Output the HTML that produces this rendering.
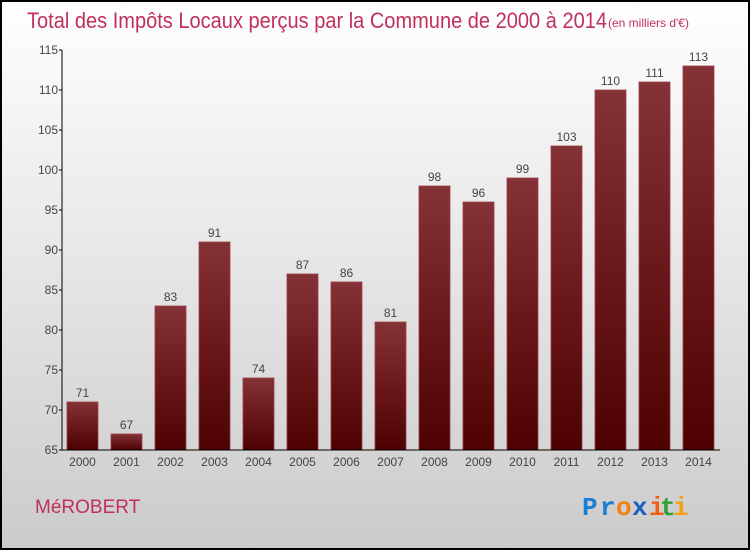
<!DOCTYPE html>
<html><head><meta charset="utf-8"><style>
body{margin:0;width:750px;height:550px;overflow:hidden;font-family:"Liberation Sans",sans-serif}
</style></head><body>
<svg width="750" height="550" xmlns="http://www.w3.org/2000/svg">
<defs>
<linearGradient id="bg" x1="0" y1="0" x2="0" y2="1"><stop offset="0" stop-color="#ffffff"/><stop offset="1" stop-color="#cbcbcb"/></linearGradient>
<linearGradient id="bar" x1="0" y1="0" x2="0" y2="1"><stop offset="0" stop-color="#843236"/><stop offset="1" stop-color="#4f0000"/></linearGradient>
</defs>
<rect x="1" y="1" width="748" height="548" fill="url(#bg)" stroke="#000" stroke-width="2"/>
<text x="27" y="28" font-size="22" fill="#c0305a" font-weight="300" textLength="580" lengthAdjust="spacingAndGlyphs">Total des Impôts Locaux perçus par la Commune de 2000 à 2014</text>
<text x="608" y="27" font-size="12" fill="#c0305a">(en milliers d'€)</text>
<g id="plot"></g>
<text x="35" y="513" font-size="19" fill="#c0305a">MéROBERT</text>
<g font-size="26" font-weight="bold" font-family="Liberation Mono, monospace">
<text x="582" y="515" fill="#1a7fd0">P</text><text x="600" y="515" fill="#1a7fd0">r</text><text x="616" y="515" fill="#f08010">o</text><text x="632" y="515" fill="#1a60c0">x</text><text x="649" y="515" fill="#f06010">i</text><text x="660" y="515" fill="#30a030">t</text><text x="673" y="515" fill="#f0a010">i</text>
</g>
</svg>
<script>
const years=["2000","2001","2002","2003","2004","2005","2006","2007","2008","2009","2010","2011","2012","2013","2014"];
const values=[71,67,83,91,74,87,86,81,98,96,99,103,110,111,113];
const yTicks=[65,70,75,80,85,90,95,100,105,110,115];
const NS="http://www.w3.org/2000/svg";
const g=document.getElementById('plot');
const y=v=>450-(v-65)*8;
const x=i=>82.5+i*44;
function mk(t,a,txt){const e=document.createElementNS(NS,t);for(const k in a)e.setAttribute(k,a[k]);if(txt!==undefined)e.textContent=txt;g.appendChild(e);return e;}
values.forEach((v,i)=>{
 const r=mk('rect',{x:x(i)-15.5,y:y(v),width:31,height:450-y(v),fill:'url(#bar)',stroke:'#9a4048','stroke-width':0.8});
 
 
 const t=mk('text',{x:x(i),y:y(v)-5,'font-size':12,fill:'#444','text-anchor':'middle'},String(v));
 
 
 const xl=mk('text',{x:x(i),y:466,'font-size':12,fill:'#444','text-anchor':'middle'},years[i]);
 
 
});
yTicks.forEach(v=>{
 const tk=mk('line',{x1:59,x2:62,y1:y(v),y2:y(v),stroke:'#000'});
 
 
 const t=mk('text',{x:58,y:y(v)+4,'font-size':12,fill:'#444','text-anchor':'end'},String(v));
 
 
});
const ya=mk('line',{x1:62,x2:62,y1:50,y2:450,stroke:'#000'});


const xa=mk('line',{x1:62,x2:720,y1:450,y2:450,stroke:'#000'});


</script>
</body></html>
